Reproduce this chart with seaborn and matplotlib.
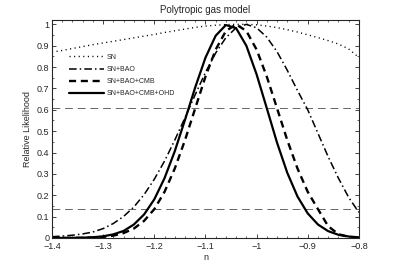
import matplotlib
matplotlib.use("Agg")
import matplotlib.pyplot as plt
import seaborn as sns
import pandas as pd
from matplotlib.ticker import MultipleLocator, FixedLocator, FixedFormatter

sns.set_theme(style="ticks")
plt.rcParams.update(
    {
        "font.family": ["Liberation Sans", "DejaVu Sans"],
        "font.size": 6,
        "axes.linewidth": 0.8,
        "xtick.direction": "in",
        "ytick.direction": "in",
        "xtick.top": True,
        "ytick.right": True,
    }
)

# parameter grid and relative likelihoods
n_grid = [-1.40, -1.38, -1.36, -1.34, -1.32, -1.30, -1.28, -1.26, -1.24, -1.22,
          -1.20, -1.18, -1.16, -1.14, -1.12, -1.10, -1.08, -1.06, -1.04, -1.02,
          -1.00, -0.98, -0.96, -0.94, -0.92, -0.90, -0.88, -0.86, -0.84, -0.82,
          -0.80]

sn = [0.870, 0.878, 0.887, 0.896, 0.905, 0.913, 0.921, 0.929, 0.937, 0.945,
      0.953, 0.962, 0.970, 0.978, 0.986, 0.992, 0.996, 0.999, 1.000, 1.000,
      0.998, 0.992, 0.985, 0.975, 0.964, 0.951, 0.938, 0.924, 0.908, 0.885,
      0.845]

sn_bao = [0.006, 0.009, 0.013, 0.019, 0.028, 0.044, 0.068, 0.101, 0.145, 0.203,
          0.275, 0.360, 0.458, 0.563, 0.671, 0.775, 0.866, 0.938, 0.984, 1.000,
          0.984, 0.940, 0.872, 0.785, 0.690, 0.600, 0.490, 0.380, 0.280, 0.190,
          0.120]

sn_bao_cmb = [0.000, 0.0001, 0.0003, 0.0009, 0.0022, 0.005, 0.011, 0.023, 0.044, 0.080,
              0.135, 0.216, 0.325, 0.458, 0.607, 0.755, 0.882, 0.969, 1.000, 0.969,
              0.882, 0.755, 0.607, 0.458, 0.325, 0.216, 0.135, 0.055, 0.018, 0.005,
              0.001]

sn_bao_cmb_ohd = [0.000, 0.0002, 0.0006, 0.0014, 0.0034, 0.0078, 0.017, 0.033, 0.063, 0.110,
                  0.181, 0.280, 0.406, 0.553, 0.705, 0.844, 0.947, 0.997, 0.982, 0.900,
                  0.766, 0.607, 0.446, 0.305, 0.194, 0.115, 0.063, 0.032, 0.015, 0.007,
                  0.003]

labels = ["SN", "SN+BAO", "SN+BAO+CMB", "SN+BAO+CMB+OHD"]
levels = [0.607, 0.135]  # 1 sigma and 2 sigma

x_ticks = [-1.4, -1.3, -1.2, -1.1, -1.0, -0.9, -0.8]
x_ticklabels = ["\u22121.4", "\u22121.3", "\u22121.2", "\u22121.1", "\u22121", "\u22120.9", "\u22120.8"]
y_ticks = [0, 0.1, 0.2, 0.3, 0.4, 0.5, 0.6, 0.7, 0.8, 0.9, 1.0]
y_ticklabels = ["0", "0.1", "0.2", "0.3", "0.4", "0.5", "0.6", "0.7", "0.8", "0.9", "1"]

df = pd.DataFrame(
    {
        "n": n_grid,
        labels[0]: sn,
        labels[1]: sn_bao,
        labels[2]: sn_bao_cmb,
        labels[3]: sn_bao_cmb_ohd,
    }
)

fig = plt.figure(figsize=(3.97, 2.68), dpi=100)
ax = fig.add_axes([0.131, 0.112, 0.773, 0.813])

styles = [
    dict(linestyle=(0, (0.8, 2.5)), linewidth=1.0),
    dict(linestyle=(0, (5, 2, 1, 2)), linewidth=1.1),
    dict(linestyle=(0, (3, 2)), linewidth=1.7),
    dict(linestyle="-", linewidth=1.6),
]

for lab, st in zip(labels, styles):
    sns.lineplot(data=df, x="n", y=lab, ax=ax, color="black", label=lab, **st)

for lv in levels:
    ax.axhline(lv, color="#666666", linewidth=0.7, linestyle=(0, (8, 5)), zorder=0)

ax.set_xlim(-1.4, -0.8)
ax.set_ylim(0, 1.02)
ax.xaxis.set_major_locator(FixedLocator(x_ticks))
ax.xaxis.set_major_formatter(FixedFormatter(x_ticklabels))
ax.yaxis.set_major_locator(FixedLocator(y_ticks))
ax.yaxis.set_major_formatter(FixedFormatter(y_ticklabels))
ax.xaxis.set_minor_locator(MultipleLocator(0.02))
ax.yaxis.set_minor_locator(MultipleLocator(0.05))
ax.tick_params(which="major", length=3, width=0.6, labelsize=6.5)
ax.tick_params(axis="x", which="major", pad=3)
ax.tick_params(axis="y", which="major", pad=2)
ax.tick_params(which="minor", length=1.5, width=0.5, top=True, right=True)

ax.set_xlabel("n", fontsize=6.5, labelpad=1)
ax.set_ylabel("Relative Likelihood", fontsize=6.5, labelpad=3)
ax.set_title("Polytropic gas model", fontsize=7, pad=5)

ax.legend(
    loc="upper left",
    bbox_to_anchor=(0.055, 0.845),
    frameon=False,
    fontsize=5,
    handlelength=5,
    handletextpad=0.5,
    labelspacing=0.75,
    borderaxespad=0,
    borderpad=0,
)

fig.savefig("out.png", dpi=100)
